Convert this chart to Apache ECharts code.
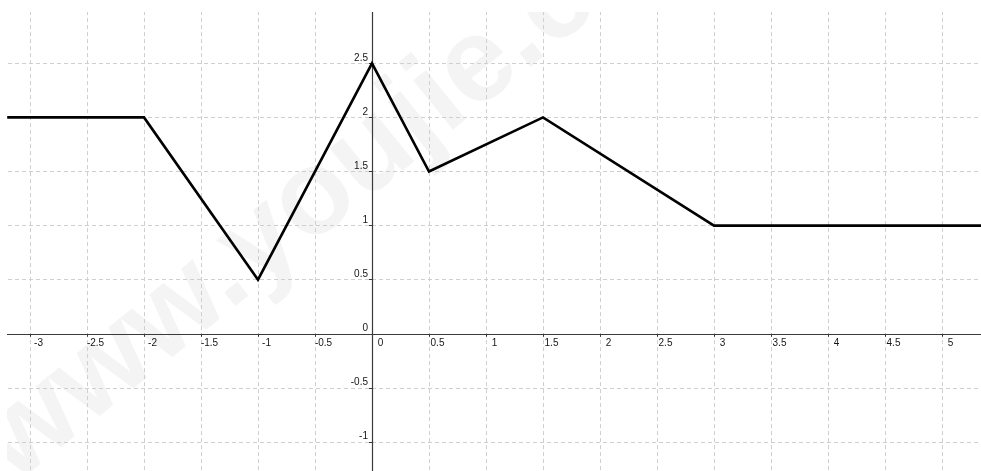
<!DOCTYPE html>
<html>
<head>
<meta charset="utf-8">
<script src="https://cdn.jsdelivr.net/npm/echarts@6/dist/echarts.min.js"></script>
<style>
html,body{margin:0;padding:0;background:#fff;}
#chart{width:981px;height:471px;}
</style>
</head>
<body>
<div id="chart"></div>
<script>
// Polyline vertices (x, y)
const xValues = [-3.2, -2, -1, 0, 0.5, 1.5, 3, 5.35];
const yValues = [2, 2, 0.5, 2.5, 1.5, 2, 1, 1];
// Axis ranges and tick step
const xRange = [-3.5, 5.5];
const yRange = [-1.5, 3.5];
const tickStep = 0.5;
// Range of visible tick labels
const xLabelRange = [-3.25, 5.4];
const yLabelRange = [-1.3, 2.9];
const watermarkText = 'www.youjie.com';

const W = 981, H = 471;
const grid = {left: -27, right: -18, top: -44.9, bottom: -25.1};
const plotW = W - grid.left - grid.right;
const plotH = H - grid.top - grid.bottom;
// place the axes through the origin
const zeroX = grid.left + (0 - xRange[0]) / (xRange[1] - xRange[0]) * plotW;
const zeroY = grid.top + (yRange[1] - 0) / (yRange[1] - yRange[0]) * plotH;
const xAxisOffset = -((H - grid.bottom) - zeroY);
const yAxisOffset = -(zeroX - grid.left);

const chart = echarts.init(document.getElementById('chart'), null, {renderer: 'canvas'});
const fontFamily = '"Liberation Sans", Arial, sans-serif';
const gridColor = '#cfcfcf';
const axisColor = '#3a3a3a';
const labelColor = '#161616';

chart.setOption({
  animation: false,
  backgroundColor: '#ffffff',
  grid: Object.assign({containLabel: false, outerBoundsMode: 'none'}, grid),
  xAxis: {
    type: 'value', min: xRange[0], max: xRange[1], interval: tickStep,
    position: 'bottom', offset: xAxisOffset,
    axisLine: {show: true, onZero: false, lineStyle: {color: axisColor, width: 1.2}},
    axisTick: {show: true, length: 3, lineStyle: {color: axisColor, width: 1}},
    splitLine: {show: true, lineStyle: {color: gridColor, width: 1, type: [4, 3]}},
    axisLabel: {
      show: true, margin: 4, align: 'center', padding: [0, 0, 0, 17],
      fontSize: 10, color: labelColor, fontFamily: fontFamily,
      formatter: v => (v > xLabelRange[0] && v < xLabelRange[1]) ? String(v) : ''
    }
  },
  yAxis: {
    type: 'value', min: yRange[0], max: yRange[1], interval: tickStep,
    position: 'left', offset: yAxisOffset,
    axisLine: {show: true, onZero: false, lineStyle: {color: axisColor, width: 1.2}},
    axisTick: {show: true, length: 3, lineStyle: {color: axisColor, width: 1}},
    splitLine: {show: true, lineStyle: {color: gridColor, width: 1, type: [4, 3]}},
    axisLabel: {
      show: true, margin: 4, align: 'right', verticalAlign: 'bottom', lineHeight: 11,
      fontSize: 10, color: labelColor, fontFamily: fontFamily,
      formatter: v => (v > yLabelRange[0] && v < yLabelRange[1]) ? String(v) : ''
    }
  },
  series: [{
    type: 'line',
    data: xValues.map((x, i) => [x, yValues[i]]),
    symbol: 'none',
    lineStyle: {color: '#000', width: 2.6, join: 'miter', cap: 'butt'},
    clip: true,
    z: 5
  }],
  graphic: [
    {
      type: 'text', x: -6, y: 459, rotation: 39 * Math.PI / 180, z: -10, silent: true,
      style: {text: watermarkText, fontSize: 120, fontWeight: 'bold', fontFamily: fontFamily,
              fill: 'rgba(0,0,0,0.045)', textAlign: 'left', textVerticalAlign: 'middle'}
    },
    {type: 'rect', shape: {x: 0, y: 0, width: W, height: 12}, style: {fill: '#fff'}, z: 100, silent: true},
    {type: 'rect', shape: {x: 0, y: 0, width: 7, height: H}, style: {fill: '#fff'}, z: 100, silent: true}
  ]
});
</script>
</body>
</html>
